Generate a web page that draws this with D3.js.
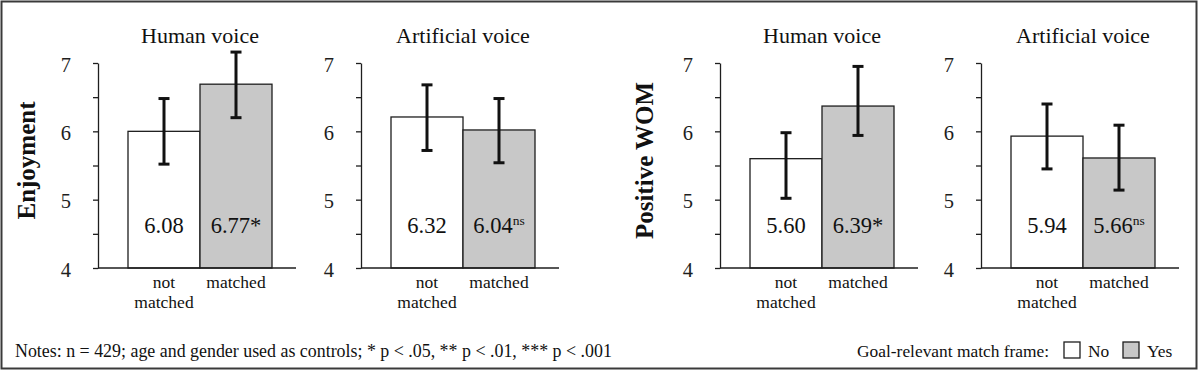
<!DOCTYPE html>
<html>
<head>
<meta charset="utf-8">
<script src="https://cdn.jsdelivr.net/npm/d3@7"></script>
<style>
  body { margin: 0; background: #fff; }
  svg { display: block; }
  svg text { font-family: "Liberation Serif", "Times New Roman", serif; }
</style>
</head>
<body>
<svg id="chart" width="1200" height="372" font-family="Liberation Serif"></svg>
<script>
// data
var groups = ["not matched", "matched"];
var panelTitles = ["Human voice", "Artificial voice", "Human voice", "Artificial voice"];
var measures = ["Enjoyment", "Enjoyment", "Positive WOM", "Positive WOM"];
var barMeans = [[6.00, 6.69], [6.21, 6.02], [5.60, 6.37], [5.93, 5.61]];
var ciLow = [[5.52, 6.20], [5.72, 5.54], [5.02, 5.94], [5.45, 5.14]];
var ciHigh = [[6.48, 7.16], [6.68, 6.48], [5.98, 6.95], [6.40, 6.09]];
var valueLabels = [["6.08", "6.77"], ["6.32", "6.04"], ["5.60", "6.39"], ["5.94", "5.66"]];
var sigMarks = [["", "*"], ["", "ns"], ["", "*"], ["", "ns"]];
var yTicks = [4, 4.5, 5, 5.5, 6, 6.5, 7];
var notes = "Notes: n = 429; age and gender used as controls; * p < .05, ** p < .01, *** p < .001";
var legendTitle = "Goal-relevant match frame:";
var legendItems = ["No", "Yes"];

var fills = { "not matched": "#ffffff", "matched": "#c8c8c8" };
var ink = "#1e1e1e";

var svg = d3.select("#chart");

// outer frame
svg.append("rect")
  .attr("x", 1.5).attr("y", 1.5)
  .attr("width", 1195).attr("height", 367)
  .attr("fill", "none").attr("stroke", "#3a3a3a").attr("stroke-width", 2);

var axisX = [98, 361, 720, 981];   // where each panel's y axis sits
var y = d3.scaleLinear().domain([4, 7]).range([268, 63]);

panelTitles.forEach(function(title, p) {
  var x0 = axisX[p];
  var x = d3.scaleBand().domain(groups).range([x0 + 30, x0 + 174]).padding(0);
  var g = svg.append("g");

  // y axis
  var yAxis = d3.axisLeft(y).tickValues(yTicks).tickSize(5).tickSizeOuter(0)
    .tickFormat(function(d) { return d % 1 === 0 ? d3.format("d")(d) : ""; });
  var ga = g.append("g").attr("transform", "translate(" + x0 + ",0)").call(yAxis)
    .attr("font-family", "Liberation Serif");
  ga.select(".domain").attr("stroke", ink).attr("stroke-width", 1.3);
  ga.selectAll(".tick line").attr("stroke", ink).attr("stroke-width", 1.3);
  ga.selectAll(".tick text")
    .attr("x", -27).attr("dy", "0.4em")
    .attr("font-size", 20.5).attr("fill", ink);

  // bars
  var rows = groups.map(function(k, i) {
    return { key: k, mean: barMeans[p][i], lo: ciLow[p][i], hi: ciHigh[p][i],
             label: valueLabels[p][i], sig: sigMarks[p][i] };
  });

  g.selectAll("rect.bar").data(rows).enter().append("rect")
    .attr("class", "bar")
    .attr("x", function(d) { return x(d.key); })
    .attr("y", function(d) { return y(d.mean); })
    .attr("width", x.bandwidth())
    .attr("height", function(d) { return y(4) - y(d.mean); })
    .attr("fill", function(d) { return fills[d.key]; })
    .attr("stroke", ink).attr("stroke-width", 1.3);

  // x baseline
  g.append("line")
    .attr("x1", x0).attr("x2", x0 + 198)
    .attr("y1", y(4)).attr("y2", y(4))
    .attr("stroke", ink).attr("stroke-width", 1.3);

  // error bars
  var eb = g.selectAll("g.err").data(rows).enter().append("g")
    .attr("class", "err")
    .attr("stroke", "#111").attr("stroke-width", 3);
  eb.append("line")
    .attr("x1", function(d) { return x(d.key) + x.bandwidth() / 2; })
    .attr("x2", function(d) { return x(d.key) + x.bandwidth() / 2; })
    .attr("y1", function(d) { return y(d.lo); })
    .attr("y2", function(d) { return y(d.hi); });
  ["lo", "hi"].forEach(function(k) {
    eb.append("line")
      .attr("x1", function(d) { return x(d.key) + x.bandwidth() / 2 - 5.5; })
      .attr("x2", function(d) { return x(d.key) + x.bandwidth() / 2 + 5.5; })
      .attr("y1", function(d) { return y(d[k]); })
      .attr("y2", function(d) { return y(d[k]); });
  });

  // value labels inside bars
  var vl = g.selectAll("text.val").data(rows).enter().append("text")
    .attr("class", "val")
    .attr("x", function(d) { return x(d.key) + x.bandwidth() / 2; })
    .attr("y", 233)
    .attr("text-anchor", "middle")
    .attr("font-size", 22.5).attr("fill", "#111");
  vl.append("tspan").text(function(d) { return d.label; });
  vl.append("tspan")
    .attr("font-size", function(d) { return d.sig === "ns" ? 13.5 : 22.5; })
    .attr("dy", function(d) { return d.sig === "ns" ? -8 : 0; })
    .text(function(d) { return d.sig; });

  // category labels
  g.selectAll("text.cat").data(rows).enter().append("text")
    .attr("class", "cat")
    .attr("x", function(d) { return x(d.key) + x.bandwidth() / 2; })
    .attr("y", 288)
    .attr("text-anchor", "middle")
    .attr("font-size", 17.5).attr("fill", "#111")
    .each(function(d) {
      var words = d.key.split(" ");
      var t = d3.select(this);
      words.forEach(function(w, i) {
        t.append("tspan").attr("x", x(d.key) + x.bandwidth() / 2)
          .attr("dy", i === 0 ? 0 : 20).text(w);
      });
    });

  // panel title
  g.append("text")
    .attr("x", x0 + 102)
    .attr("y", 43)
    .attr("text-anchor", "middle")
    .attr("font-size", 22).attr("fill", "#111")
    .text(title);
});

// measure labels, one per pair of panels
[[0, 35], [2, 653]].forEach(function(m) {
  var p = m[0];
  svg.append("text")
    .attr("transform", "translate(" + m[1] + "," + ((y(4) + y(7)) / 2 - 5) + ") rotate(-90)")
    .attr("text-anchor", "middle")
    .attr("font-size", 25).attr("font-weight", "bold").attr("fill", "#111")
    .text(measures[p]);
});

// notes
svg.append("text")
  .attr("x", 15).attr("y", 357)
  .attr("font-size", 17.9).attr("fill", "#111")
  .text(notes);

// legend
var lg = svg.append("g");
lg.append("text")
  .attr("x", 857).attr("y", 357)
  .attr("font-size", 17.4).attr("fill", "#111")
  .text(legendTitle);
var legX = [1064, 1123];
legendItems.forEach(function(name, i) {
  lg.append("rect")
    .attr("x", legX[i]).attr("y", 342)
    .attr("width", 16).attr("height", 16)
    .attr("fill", fills[groups[i]])
    .attr("stroke", ink).attr("stroke-width", 1.3);
  lg.append("text")
    .attr("x", legX[i] + 24).attr("y", 357)
    .attr("font-size", 17.4).attr("fill", "#111")
    .text(name);
});
</script>
</body>
</html>
